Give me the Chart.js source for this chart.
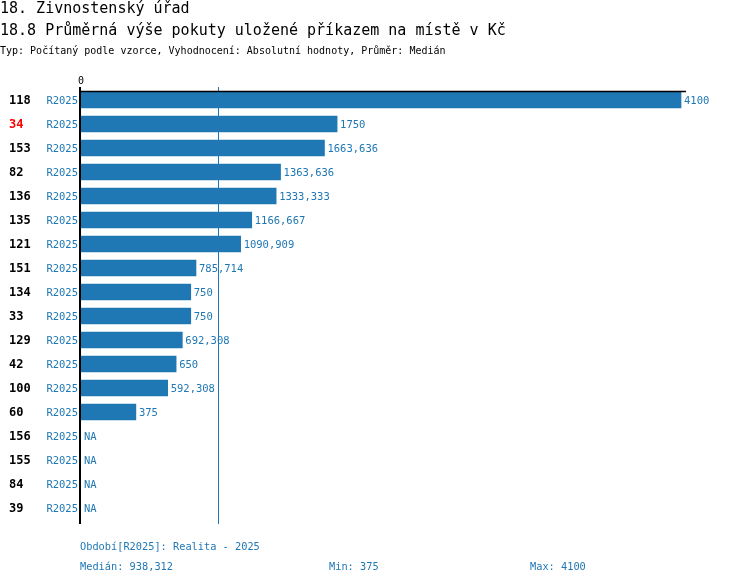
<!DOCTYPE html>
<html>
<head>
<meta charset="utf-8">
<script src="https://cdn.jsdelivr.net/npm/chart.js@4"></script>
<style>
  html, body { margin: 0; padding: 0; background: #fff; }
  #wrap { width: 750px; height: 584px; }
</style>
</head>
<body>
<div id="wrap"><canvas id="chartPokuty" width="750" height="584"></canvas></div>
<script>
const title1 = "18. Živnostenský úřad";
const title2 = "18.8 Průměrná výše pokuty uložené příkazem na místě v Kč";
const subtitle = "Typ: Počítaný podle vzorce, Vyhodnocení: Absolutní hodnoty, Průměr: Medián";
const periodLabel = "R2025";
const periodText = "Období[R2025]: Realita - 2025";

const codes = ["118", "34", "153", "82", "136", "135", "121", "151", "134", "33", "129", "42", "100", "60", "156", "155", "84", "39"];
const values = [4100, 1750, 1663.636, 1363.636, 1333.333, 1166.667, 1090.909, 785.714, 750, 750, 692.308, 650, 592.308, 375, null, null, null, null];
const highlighted = ["34"];
const xTicks = [0];

const blue = "#1f77b4";
const mono = "'DejaVu Sans Mono', 'Liberation Mono', monospace";

const present = values.filter(v => v !== null).sort((a, b) => a - b);
const mid = Math.floor(present.length / 2);
const median = present.length % 2 ? present[mid] : (present[mid - 1] + present[mid]) / 2;
const minVal = present[0];
const maxVal = present[present.length - 1];

function fmt(v) {
    return String(Math.round(v * 1000) / 1000).replace(".", ",");
}

const decor = {
    id: "decor",
    afterDatasetsDraw(chart) {
        const ctx = chart.ctx;
        const x = chart.scales.x;
        const y = chart.scales.y;
        const area = chart.chartArea;
        ctx.save();

        // median line
        const mx = Math.round(x.getPixelForValue(median)) + 0.5;
        ctx.strokeStyle = blue;
        ctx.lineWidth = 1;
        ctx.beginPath();
        ctx.moveTo(mx, area.top - 1);
        ctx.lineTo(mx, area.bottom + 4);
        ctx.stroke();

        // axes
        ctx.strokeStyle = "#000";
        ctx.lineWidth = 2;
        ctx.beginPath();
        ctx.moveTo(80, area.top - 1);
        ctx.lineTo(80, area.bottom + 4);
        ctx.stroke();
        ctx.lineWidth = 1.5;
        ctx.beginPath();
        ctx.moveTo(80, area.top + 3.5);
        ctx.lineTo(area.right, area.top + 3.5);
        ctx.stroke();

        ctx.textBaseline = "middle";
        ctx.font = "10px " + mono;
        ctx.fillStyle = "#000";
        ctx.textAlign = "center";
        xTicks.forEach(t => ctx.fillText(String(t), x.getPixelForValue(t), area.top - 7));

        // row labels and values
        codes.forEach((c, i) => {
            const cy = y.getPixelForValue(i);
            ctx.textAlign = "left";
            ctx.font = "bold 12px " + mono;
            ctx.fillStyle = highlighted.includes(c) ? "#ff0000" : "#000";
            ctx.fillText(c, 9, cy + 1);
            ctx.font = "10.5px " + mono;
            ctx.fillStyle = blue;
            ctx.textAlign = "right";
            ctx.fillText(periodLabel, 78, cy + 1);
            ctx.textAlign = "left";
            const v = values[i];
            const vx = v === null ? 84 : x.getPixelForValue(v) + 3;
            ctx.fillText(v === null ? "NA" : fmt(v), vx, cy + 1);
        });

        // titles
        ctx.fillStyle = "#000";
        ctx.textAlign = "left";
        ctx.font = "15px " + mono;
        ctx.fillText(title1, 0, 9);
        ctx.fillText(title2, 0, 31);
        ctx.font = "10px " + mono;
        ctx.fillText(subtitle, 0, 51);

        // footer
        ctx.fillStyle = blue;
        ctx.font = "10.3px " + mono;
        ctx.fillText(periodText, 80, 547);
        ctx.fillText("Medián: " + fmt(median), 80, 567);
        ctx.fillText("Min: " + fmt(minVal), 329, 567);
        ctx.fillText("Max: " + fmt(maxVal), 530, 567);
        ctx.restore();
    }
};

new Chart(document.getElementById("chartPokuty"), {
    type: "bar",
    data: {
        labels: codes,
        datasets: [
            {
                label: periodLabel,
                data: values,
                backgroundColor: blue,
                borderWidth: 0,
                barThickness: 16,
            },
        ],
    },
    options: {
        indexAxis: "y",
        responsive: false,
        animation: false,
        devicePixelRatio: 1,
        layout: { padding: { left: 81, right: 64, top: 88, bottom: 64 } },
        plugins: { legend: { display: false }, tooltip: { enabled: false } },
        scales: {
            x: { display: false, min: 0, max: 4134 },
            y: { display: false },
        },
    },
    plugins: [decor],
});
</script>
</body>
</html>
